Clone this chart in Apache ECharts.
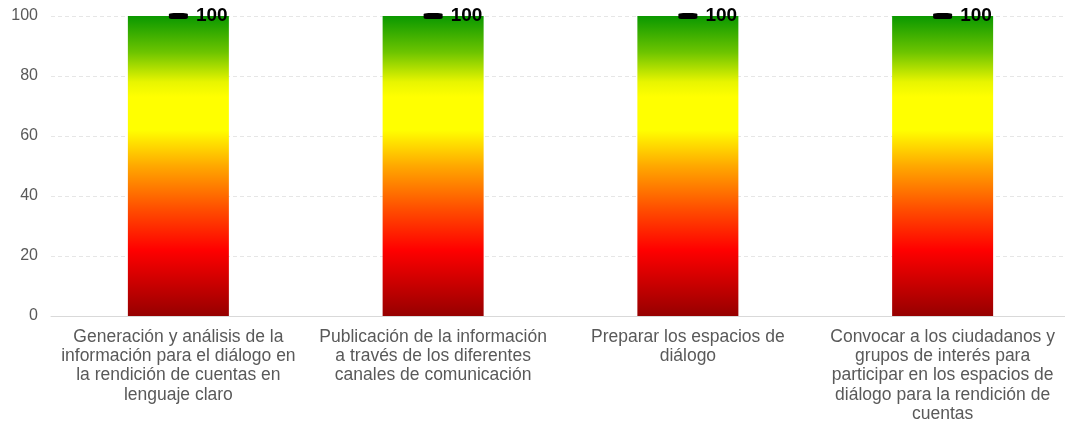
<!DOCTYPE html>
<html><head><meta charset="utf-8">
<script src="https://cdn.jsdelivr.net/npm/echarts@6/dist/echarts.min.js"></script>
<style>html,body{margin:0;padding:0;background:#fff}#c{width:1065px;height:427px}</style>
</head><body><div id="c"></div>
<script>
const categories = [
  "Generación y análisis de la\ninformación para el diálogo en\nla rendición de cuentas en\nlenguaje claro",
  "Publicación de la información\na través de los diferentes\ncanales de comunicación",
  "Preparar los espacios de\ndiálogo",
  "Convocar a los ciudadanos y\ngrupos de interés para\nparticipar en los espacios de\ndiálogo para la rendición de\ncuentas"
];
const barValues = [100, 100, 100, 100];
const markerValues = [100, 100, 100, 100];
const yTicks = {min: 0, max: 100, interval: 20};

const grad = new echarts.graphic.LinearGradient(0, 0, 0, 1, [
  {offset: 0, color: '#0a9800'},
  {offset: 0.12, color: '#6cc400'},
  {offset: 0.22, color: '#e8f500'},
  {offset: 0.27, color: '#ffff00'},
  {offset: 0.38, color: '#ffff00'},
  {offset: 0.5, color: '#ffa800'},
  {offset: 0.64, color: '#ff5000'},
  {offset: 0.78, color: '#ff0000'},
  {offset: 1, color: '#960000'}
]);

const chart = echarts.init(document.getElementById('c'), null, {renderer: 'canvas'});
chart.setOption({
  animation: false,
  grid: {left: 51, width: 1019, top: 16, bottom: 111, containLabel: false, outerBoundsMode: 'none'},
  xAxis: {
    type: 'category', data: categories,
    axisLine: {lineStyle: {color: '#d9d9d9'}},
    axisTick: {show: false},
    axisLabel: {color: '#595959', fontSize: 17.5, lineHeight: 19.4, fontFamily: 'Liberation Sans, Arial', interval: 0, margin: 11}
  },
  yAxis: {
    type: 'value', min: yTicks.min, max: yTicks.max, interval: yTicks.interval,
    axisLine: {show: false}, axisTick: {show: false},
    axisLabel: {color: '#595959', fontSize: 16, fontFamily: 'Liberation Sans, Arial', margin: 13},
    splitLine: {lineStyle: {color: '#e6e6e6', type: [4, 3]}}
  },
  series: [
    {type: 'bar', data: barValues, barWidth: 101, itemStyle: {color: grad}, z: 2},
    {type: 'line', data: markerValues, symbol: 'roundRect', symbolSize: [19, 6],
     lineStyle: {opacity: 0}, itemStyle: {color: '#000'}, z: 5,
     label: {show: true, position: 'right', distance: 8, color: '#000', fontWeight: 'bold',
             fontSize: 19, fontFamily: 'Liberation Sans, Arial'}}
  ]
});
</script></body></html>
